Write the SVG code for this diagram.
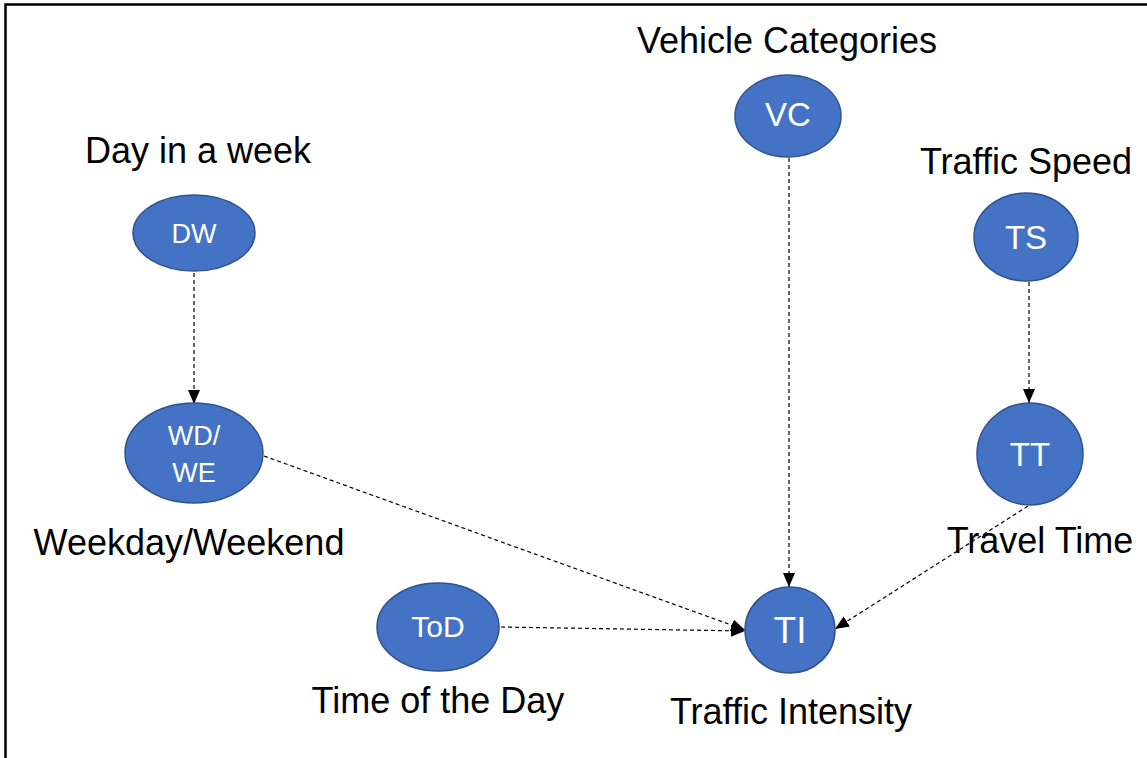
<svg xmlns="http://www.w3.org/2000/svg" width="1147" height="758" viewBox="0 0 1147 758">
<style>
.node{fill:#4472C4;stroke:#2F528F;stroke-width:1.5}
.nl{font-family:"Liberation Sans",Arial,sans-serif;fill:#fff;text-anchor:middle}
.lbl{font-family:"Liberation Sans",Arial,sans-serif;font-size:36px;fill:#000;text-anchor:middle}
.edge{fill:none;stroke:#000;stroke-width:1.2;stroke-dasharray:4 3;marker-end:url(#ah)}
</style>
<defs>
<marker id="ah" markerUnits="userSpaceOnUse" markerWidth="14" markerHeight="12" refX="14" refY="6" orient="auto">
<path d="M0,0 L14,6 L0,12 Z" fill="#000"/>
</marker>
</defs>
<rect width="1147" height="758" fill="#fff"/>
<path d="M5.5,758 V4.5 H1147" fill="none" stroke="#000" stroke-width="2.5"/>
<g id="connectors">
<line class="edge" x1="194" y1="273" x2="194" y2="404"/>
<line class="edge" x1="789" y1="158" x2="789" y2="587"/>
<line class="edge" x1="1029" y1="282" x2="1029" y2="403"/>
<line class="edge" x1="264" y1="456" x2="745" y2="630"/>
<line class="edge" x1="501" y1="627" x2="745" y2="631"/>
<line class="edge" x1="1028" y1="506" x2="835" y2="629"/>
</g>
<g id="DW">
<ellipse class="node" cx="194" cy="233" rx="61" ry="38"/>
<text class="nl" x="194" y="243" font-size="27">DW</text>
<text class="lbl" x="198" y="163">Day in a week</text>
</g>
<g id="WDWE">
<ellipse class="node" cx="194" cy="453" rx="69" ry="50"/>
<text class="nl" x="194" y="445" font-size="27">WD/</text>
<text class="nl" x="194" y="482" font-size="27">WE</text>
<text class="lbl" x="189" y="555">Weekday/Weekend</text>
</g>
<g id="ToD">
<ellipse class="node" cx="438" cy="627" rx="61" ry="44"/>
<text class="nl" x="438" y="637" font-size="30">ToD</text>
<text class="lbl" x="438" y="713">Time of the Day</text>
</g>
<g id="TI">
<ellipse class="node" cx="790" cy="630" rx="45" ry="43"/>
<text class="nl" x="790" y="643" font-size="37">TI</text>
<text class="lbl" x="791" y="724">Traffic Intensity</text>
</g>
<g id="VC">
<ellipse class="node" cx="788" cy="116" rx="53" ry="41"/>
<text class="nl" x="788" y="126" font-size="33">VC</text>
<text class="lbl" x="787" y="53">Vehicle Categories</text>
</g>
<g id="TS">
<ellipse class="node" cx="1026" cy="237" rx="52" ry="44"/>
<text class="nl" x="1026" y="249" font-size="33">TS</text>
<text class="lbl" x="1026" y="174">Traffic Speed</text>
</g>
<g id="TT">
<ellipse class="node" cx="1030" cy="454" rx="53" ry="51"/>
<text class="nl" x="1030" y="466" font-size="33">TT</text>
<text class="lbl" x="1040" y="553">Travel Time</text>
</g>
</svg>
